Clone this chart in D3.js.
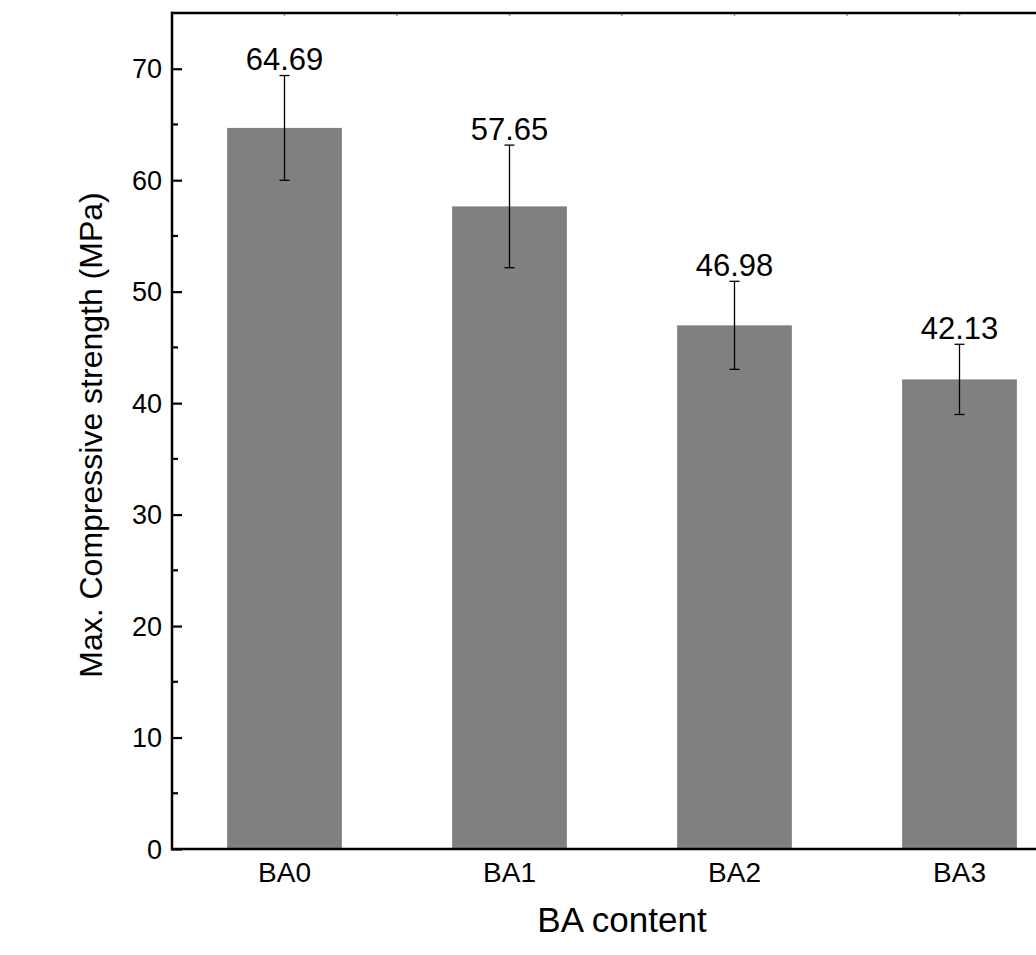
<!DOCTYPE html>
<html><head><meta charset="utf-8">
<script src="https://cdn.jsdelivr.net/npm/d3@7"></script>
<style>body{margin:0;background:#fff}svg{display:block}text{font-family:"Liberation Sans",Arial,sans-serif;fill:#000}</style>
</head><body>
<svg id="c" width="1036" height="955"></svg>
<script>
const categories = ["BA0","BA1","BA2","BA3"];
const values = [64.69, 57.65, 46.98, 42.13];
const errors = [4.7, 5.5, 3.95, 3.15];
const yTicks = [0,10,20,30,40,50,60,70];

const svg = d3.select("#c");
const L = 172, T = 13, R = 1072, B = 849;
const x = d3.scaleBand().domain(categories).range([L, R]).paddingInner(0.49).paddingOuter(0.245);
const y = d3.scaleLinear().domain([0, 75]).range([B, T]);

// bars
svg.selectAll("rect.bar").data(values).enter().append("rect")
  .attr("x", (d,i)=>x(categories[i])).attr("width", x.bandwidth())
  .attr("y", d=>y(d)).attr("height", d=>B - y(d)).attr("fill", "#808080");

// error bars + value labels
const eg = svg.append("g").attr("stroke","#000").attr("stroke-width",1.3);
values.forEach((v,i)=>{
  const cx = x(categories[i]) + x.bandwidth()/2;
  eg.append("line").attr("x1",cx).attr("x2",cx).attr("y1",y(v+errors[i])).attr("y2",y(v-errors[i]));
  [v+errors[i], v-errors[i]].forEach(e=>{
    eg.append("line").attr("x1",cx-5).attr("x2",cx+5).attr("y1",y(e)).attr("y2",y(e));
  });
  svg.append("text").attr("x",cx).attr("y",y(v+errors[i])-5.5).attr("text-anchor","middle")
    .attr("font-size",31).text(v.toFixed(2));
});

// y axis (inward ticks)
const yAxis = d3.axisRight(y).tickValues(yTicks).tickSize(10).tickFormat(d3.format("d"));
const ya = svg.append("g").attr("transform",`translate(${L},0)`).call(yAxis);
ya.select(".domain").remove();
ya.selectAll(".tick line").attr("stroke-width",2.2);
ya.selectAll(".tick text").attr("font-size",27).attr("font-family","Liberation Sans, Arial, sans-serif")
  .attr("text-anchor","end").attr("x",-10).attr("dy","0.34em");
// minor ticks
const minor = d3.range(5, 75, 10);
svg.append("g").selectAll("line").data(minor).enter().append("line")
  .attr("x1",L).attr("x2",L+6).attr("y1",d=>y(d)).attr("y2",d=>y(d)).attr("stroke","#000").attr("stroke-width",2.2);

// top ticks (small, inward)
const step = x.step();
const c0 = x(categories[0]) + x.bandwidth()/2;
const topT = d3.range(-1, 8).map(k => c0 + k*step/2).filter(v=>v>L+2 && v<1036);
svg.append("g").selectAll("line").data(topT).enter().append("line")
  .attr("x1",d=>d).attr("x2",d=>d).attr("y1",T).attr("y2",T+3).attr("stroke","#999").attr("stroke-width",1.5);

// frame lines
svg.append("line").attr("x1",L).attr("x2",L).attr("y1",T-1.2).attr("y2",B+1.2).attr("stroke","#000").attr("stroke-width",2.5);
svg.append("line").attr("x1",L-1).attr("x2",1036).attr("y1",B).attr("y2",B).attr("stroke","#000").attr("stroke-width",2.5);
svg.append("line").attr("x1",L-1).attr("x2",1036).attr("y1",T).attr("y2",T).attr("stroke","#000").attr("stroke-width",2.5);

// x axis labels
const xAxis = d3.axisBottom(x).tickSize(0).tickPadding(13);
const xa = svg.append("g").attr("transform",`translate(0,${B})`).call(xAxis);
xa.select(".domain").remove();
xa.selectAll(".tick text").attr("font-size",28).attr("font-family","Liberation Sans, Arial, sans-serif");

// titles
svg.append("text").attr("x", 622).attr("y", 932).attr("text-anchor","middle").attr("font-size",35).text("BA content");
svg.append("text").attr("transform","translate(102,435) rotate(-90)").attr("text-anchor","middle").attr("font-size",32).text("Max. Compressive strength (MPa)");
</script>
</body></html>
